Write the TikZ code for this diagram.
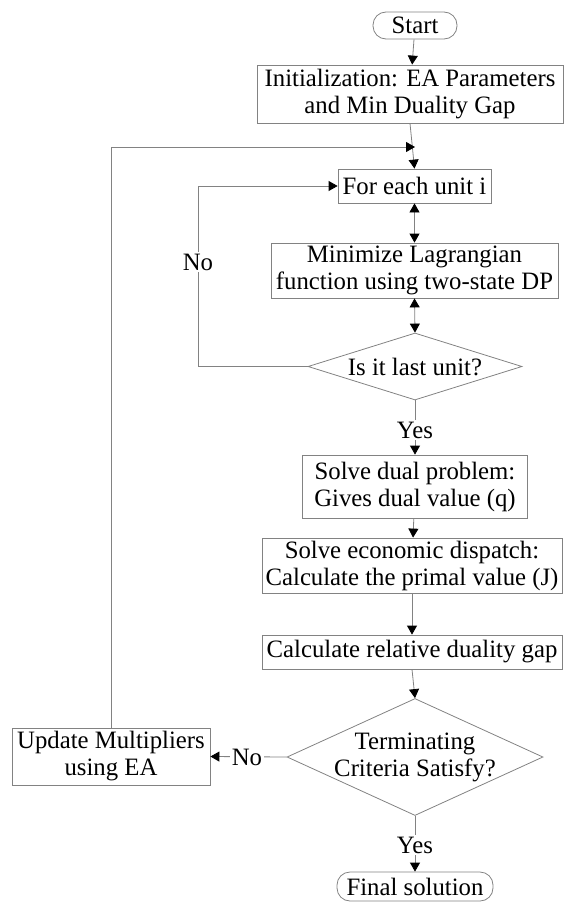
\documentclass[tikz,border=0pt]{standalone}
\usepackage{fontspec}
\setmainfont{Liberation Serif}[FakeStretch=0.99]
\usetikzlibrary{shapes.geometric,arrows.meta}
\definecolor{linegray}{RGB}{130,130,130}
\tikzset{
  x=1pt, y=-1pt,
  every node/.style={font=\fontsize{25}{27}\selectfont, text=black, align=center},
  procbox/.style={draw=linegray, line width=0.8pt, rectangle, inner sep=0pt},
  termbox/.style={procbox, rounded corners=13pt},
  decbox/.style={draw=linegray, line width=0.8pt, diamond, inner sep=0pt},
  flow/.style={draw=linegray, line width=0.8pt, -{Triangle[length=9pt,width=10pt,color=black,fill=black]}},
  bothflow/.style={draw=linegray, line width=0.8pt,
    {Triangle[length=9pt,width=10pt,color=black,fill=black]}-{Triangle[length=9pt,width=10pt,color=black,fill=black]}},
  tag/.style={fill=white, inner sep=1.5pt},
}
\begin{document}
\begin{tikzpicture}
\useasboundingbox (0,0) rectangle (563,902);

% main column
\node[termbox, minimum width=84, minimum height=27] (start) at (415,25.5) {Start};
\node[procbox, minimum width=306, minimum height=58] (init) at (410,94)
  {Initialization: EA Parameters\\and Min Duality Gap};
\coordinate (merge) at (415,147);
\node[procbox, minimum width=153, minimum height=34] (unit) at (414.5,186) {For each unit i};
\node[procbox, minimum width=287, minimum height=55] (lagr) at (414.5,270.5)
  {Minimize Lagrangian\\function using two-state DP};
\node[decbox, minimum width=214, minimum height=67] (last) at (415,366.5) {};
\node (lasttxt) at (last.center) {Is it last unit?};
\node[procbox, minimum width=225, minimum height=63] (dual) at (415,486.5)
  {Solve dual problem:\\Gives dual value (q)};
\node[procbox, minimum width=300, minimum height=55] (econ) at (412,565.5)
  {Solve economic dispatch:\\Calculate the primal value (J)};
\node[procbox, minimum width=300, minimum height=34] (gap) at (412,652)
  {Calculate relative duality gap};
\node[decbox, minimum width=256, minimum height=117] (term) at (415,757) {};
\node (termtxt) at (term.center) {Terminating\\Criteria Satisfy?};
\node[termbox, minimum width=156, minimum height=29] (final) at (415,886.5) {Final solution};

% side box
\node[procbox, minimum width=198, minimum height=57] (update) at (111,756.5)
  {Update Multipliers\\using EA};

% loop corner
\coordinate (innerturn) at (198,366.5);

% connectors
\draw[flow] (start) -- (init);
\draw[flow] (init.south) -- (unit.north);
\draw[bothflow] (unit) -- (lagr);
\draw[bothflow] (lagr.south) -- (last.north);
\draw[flow] (last.west) -- (innerturn) |- (unit.west);
\draw[flow] (last.south) -- (dual.north);
\draw[flow] (dual) -- (econ);
\draw[flow] (econ) -- (gap);
\draw[flow] (gap.south) -- (term.north);
\draw[flow] (term.west) -- (update.east);
\draw[flow] (term.south) -- (final.north);
\draw[flow] (update.north) |- (merge);

% branch labels
\node[tag] (noinner) at (198,262) {No};
\node[tag] (yesinner) at (415,430) {Yes};
\node[tag] (noterm) at (247,757) {No};
\node[tag] (yesterm) at (415,845) {Yes};
\end{tikzpicture}
\end{document}
